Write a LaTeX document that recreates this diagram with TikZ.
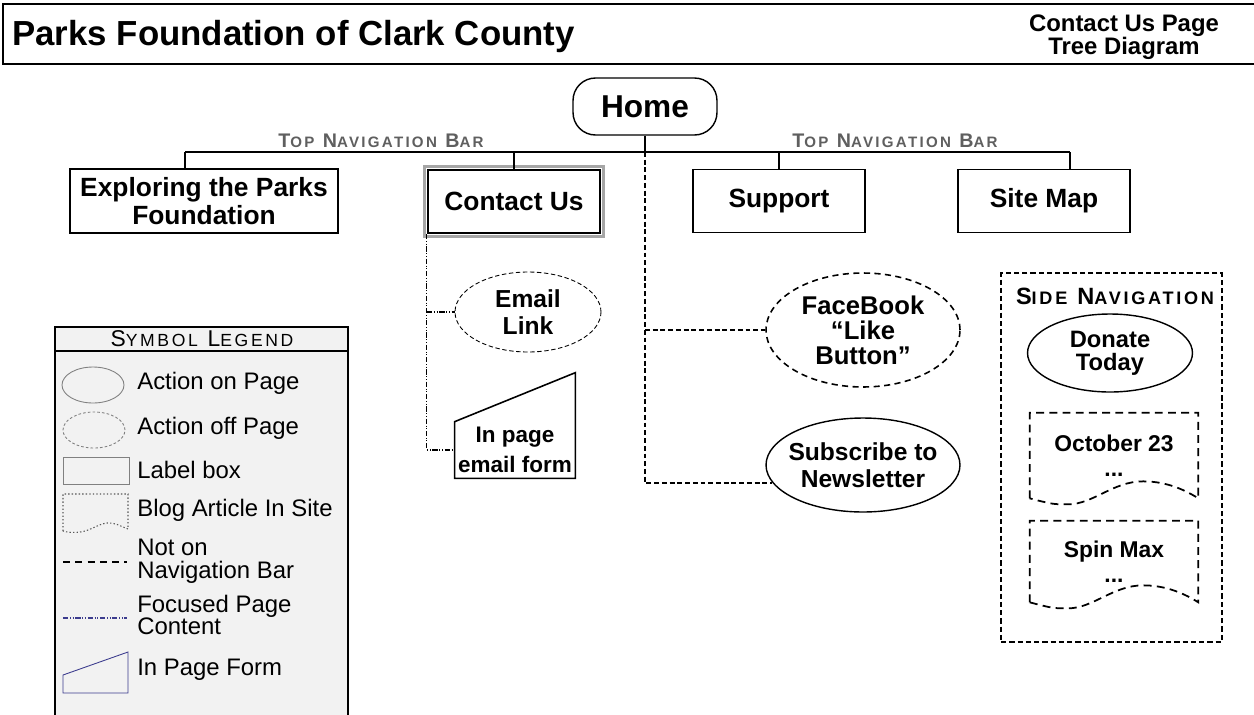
\documentclass[tikz,border=0pt]{standalone}
\usepackage{fontspec}
\setmainfont{Liberation Sans}
\newfontfamily\spacedfont[LetterSpace=15]{Liberation Sans}
\usetikzlibrary{shapes.geometric,calc}

\definecolor{navgray}{HTML}{5F5F5F}
\definecolor{legendfill}{HTML}{F2F2F2}
\definecolor{formnavy}{HTML}{3C3C8E}

% small caps made by hand: big first letter, smaller rest
\newcommand{\capsmall}{}
\newcommand{\capsword}[2]{#1{\capsmall #2}}

% blog article box with wavy bottom, drawn round a node
\newcommand{\drawblog}[1]{%
  \draw[blogline] (#1.south west) -- (#1.north west) -- (#1.north east) -- (#1.south east)
    .. controls +(-0.35cm,0.22cm) and +(0.4cm,0cm) .. ($(#1.south)+(0.58cm,0.34cm)$)
    .. controls +(-0.6cm,0cm) and +(0.5cm,0cm) .. ($(#1.south)+(-0.92cm,-0.12cm)$)
    .. controls +(-0.3cm,0cm) .. (#1.south west);}

\tikzset{
  navline/.style={line width=0.8pt},
  navbox/.style={draw, line width=0.9pt, inner sep=0pt, align=center,
    minimum width=3.44cm, minimum height=1.26cm,
    font=\bfseries\fontsize{15}{15.5}\selectfont},
  homebox/.style={draw, line width=0.8pt, rounded corners=0.45cm, inner sep=0pt,
    minimum width=2.88cm, minimum height=1.14cm,
    font=\bfseries\fontsize{18}{18}\selectfont},
  navlabel/.style={text=navgray, inner sep=0pt,
    font=\spacedfont\bfseries\fontsize{11.2}{12}\selectfont\def\capsmall{\fontsize{8.6}{12}\selectfont}},
  nodetext/.style={inner sep=0pt, align=center,
    font=\bfseries\fontsize{14}{15.3}\selectfont},
  onpage/.style={nodetext, ellipse, draw, line width=0.8pt},
  offpage/.style={nodetext, ellipse, draw, line width=0.5pt, dash pattern=on 2.5pt off 1.5pt},
  offpagebold/.style={offpage, line width=0.9pt, dash pattern=on 3.5pt off 2.5pt,
    font=\bfseries\fontsize{14.6}{14.2}\selectfont},
  focused/.style={line width=0.6pt, dash pattern=on 3pt off 1pt on 0.5pt off 1pt on 0.5pt off 1pt},
  notnav/.style={line width=1.6pt, dash pattern=on 2.8pt off 1.6pt},
  formline/.style={line width=0.9pt},
  sidebox/.style={draw, line width=1.6pt, dash pattern=on 3pt off 1.7pt},
  blogline/.style={line width=1pt, dash pattern=on 4.5pt off 3pt},
  blogtext/.style={nodetext, minimum width=3.36cm, font=\bfseries\fontsize{13}{14}\selectfont},
  legendgray/.style={draw=gray, line width=0.5pt},
  legendtext/.style={anchor=west, inner sep=0pt, align=left, font=\fontsize{13.6}{13}\selectfont},
}

\begin{document}
\begin{tikzpicture}[x=0.02cm, y=-0.02cm]
\useasboundingbox (0,0) rectangle (1254,714);

% header
\draw[line width=1.1pt] (3,4) rectangle (1262,64);
\node[anchor=west, inner sep=0pt, font=\bfseries\fontsize{19.8}{20}\selectfont] (title) at (12,37) {Parks Foundation of Clark County};
\node[align=center, inner sep=0pt, font=\bfseries\fontsize{13.6}{12.8}\selectfont] (pagename) at (1124,37) {Contact Us Page\\Tree Diagram};

% home and top navigation
\node[homebox] (home) at (645,106.5) {Home};
\coordinate (navL) at (185,152);
\coordinate (navR) at (1070,152);
\draw[navline] (navL) -- (navR);
\draw[navline] (home.south) -- (home.south |- navL);
\node[navlabel] (navlabelL) at (381,141) {\capsword{T}{OP} \capsword{N}{AVIGATION} \capsword{B}{AR}};
\node[navlabel] (navlabelR) at (895,141) {\capsword{T}{OP} \capsword{N}{AVIGATION} \capsword{B}{AR}};

\node[navbox, minimum width=5.36cm, minimum height=1.28cm] (explore) at (204,201) {Exploring the Parks\\Foundation};
\node[navbox, line width=1.2pt] (contact) at (514,201.5) {Contact Us};
\draw[gray!70, line width=1.6pt] ($(contact.south west)+(-2.5,2.5)$) rectangle ($(contact.north east)+(2.5,-2.5)$);
\node[navbox] (support) at (779,201) {Support};
\node[navbox] (sitemap) at (1044,201) {Site Map};
\draw[navline] (navL) -- (navL |- explore.north);
\draw[navline] (contact.north |- navL) -- (contact.north);
\draw[navline] (support.north |- navL) -- (support.north);
\draw[navline] (navR) -- (navR |- sitemap.north);

% contact us page content
\node[offpage, minimum width=2.92cm, minimum height=1.6cm] (email) at (528,312) {Email\\Link};
\node[nodetext, minimum width=2.4cm, minimum height=1.12cm, font=\bfseries\fontsize{12.8}{17}\selectfont] (form) at (515,450) {In page\\email form};
\draw[formline] (form.south west) -- (form.south east) -- ($(form.north east)+(0,-49)$) -- (form.north west) -- cycle;
\draw[focused] (contact.south west) -- (contact.south west |- form.west) -- (form.west);
\draw[focused] (contact.south west |- email.west) -- (email.west);

% off the navigation bar
\node[offpagebold, minimum width=3.88cm, minimum height=2.28cm] (facebook) at (863,330) {FaceBook\\“Like\\Button”};
\node[onpage, inner xsep=-0.25cm, minimum width=3.88cm, minimum height=1.88cm] (subscribe) at (863,465) {Subscribe to\\Newsletter};
\coordinate (trunk) at (645,483);
\draw[notnav] (home.south |- navL) -- (trunk) -- (trunk -| subscribe.191);
\draw[notnav] (home.south |- facebook.west) -- (facebook.west);

% side navigation
\node[sidebox, minimum width=4.42cm, minimum height=7.38cm] (sidenav) at (1111.5,457.5) {};
\node[inner sep=0pt, font=\spacedfont\bfseries\fontsize{13.4}{14}\selectfont\def\capsmall{\fontsize{10.3}{14}\selectfont}] (sidelabel) at (1115,296) {\capsword{S}{IDE} \capsword{N}{AVIGATION}};
\node[onpage, minimum width=3.3cm, minimum height=1.56cm, font=\bfseries\fontsize{13.5}{13}\selectfont] (donate) at (1110,353) {Donate\\Today};
\node[blogtext, minimum height=1.7cm] (october) at (1114,455.5) {October 23\\...};
\drawblog{october}
\node[blogtext, minimum height=1.62cm] (spinmax) at (1114,561.5) {Spin Max\\...};
\drawblog{spinmax}

% symbol legend
\draw[fill=legendfill, line width=1.1pt] (55,327) rectangle (348,740);
\draw[line width=0.8pt] (55,351) -- (348,351);
\node[inner sep=0pt, font=\spacedfont\fontsize{13}{14}\selectfont\def\capsmall{\fontsize{10}{14}\selectfont}] (legendtitle) at (202,339) {\capsword{S}{YMBOL} \capsword{L}{EGEND}};
\draw[legendgray] (93,385) ellipse [x radius=0.62cm, y radius=0.36cm];
\node[legendtext] (legendon) at (137,383) {Action on Page};
\draw[legendgray, dash pattern=on 1.5pt off 1.2pt] (94,430) ellipse [x radius=0.62cm, y radius=0.36cm];
\node[legendtext] (legendoff) at (137,428) {Action off Page};
\draw[legendgray] (63,457) rectangle (129,484);
\node[legendtext] (legendlabel) at (137,470) {Label box};
\draw[draw=black!65, line width=0.6pt, dash pattern=on 0.8pt off 1.2pt] (63,531) -- (63,494) -- (128,494) -- (128,529)
  .. controls (120,526) and (114,522) .. (107,523)
  .. controls (98,524) and (90,531) .. (80,532)
  .. controls (72,533) and (66,532) .. (63,531);
\node[legendtext] (legendblog) at (137,510) {Blog Article In Site};
\draw[notnav, line width=1.2pt, dash pattern=on 4pt off 3pt] (63,562) -- (127,562);
\node[legendtext] (legendnot) at (137,561) {Not on\\Navigation Bar};
\draw[focused, draw=formnavy, line width=0.8pt] (63,618) -- (127,618);
\node[legendtext] (legendfocus) at (137,615) {Focused Page\\Content};
\draw[draw=formnavy, line width=0.5pt] (63,693) -- (128,693) -- (128,652) -- (63,675) -- cycle;
\node[legendtext] (legendform) at (137,670) {In Page Form};
\end{tikzpicture}
\end{document}
